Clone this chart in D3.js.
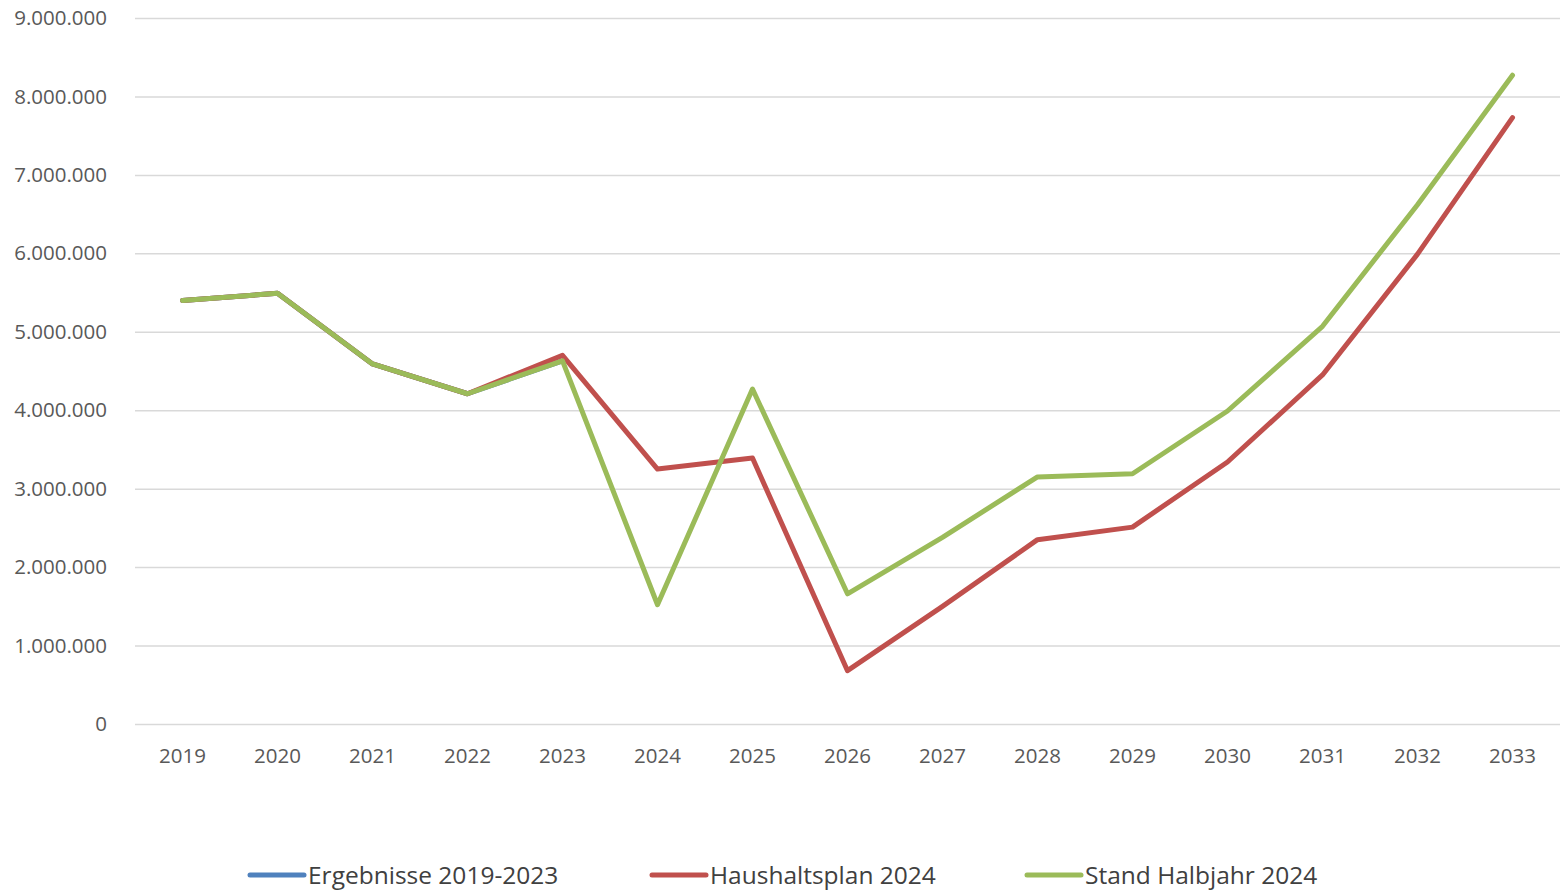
<!DOCTYPE html>
<html>
<head>
<meta charset="utf-8">
<script src="https://cdn.jsdelivr.net/npm/d3@7"></script>
<style>
  body { margin: 0; background: #fff; overflow: hidden; }
  .tick text { fill: #595959; font-family: "Open Sans", "Noto Sans", sans-serif; font-size: 20.5px; }
  .legend text { fill: #404040; font-family: "Open Sans", sans-serif; font-size: 24.5px; }
</style>
</head>
<body>
<div id="chart"></div>
<script>
// Data
const years = ["2019","2020","2021","2022","2023","2024","2025","2026","2027","2028","2029","2030","2031","2032","2033"];
const ergebnisse = [5400000, 5490000, 4590000, 4210000, 4630000];
const haushaltsplan = [5400000, 5490000, 4590000, 4210000, 4700000, 3250000, 3390000, 680000, 1500000, 2350000, 2510000, 3340000, 4450000, 5990000, 7730000];
const halbjahr = [5400000, 5490000, 4590000, 4210000, 4630000, 1520000, 4270000, 1660000, 2380000, 3150000, 3190000, 3990000, 5070000, 6620000, 8270000];
const yTicks = [0, 1000000, 2000000, 3000000, 4000000, 5000000, 6000000, 7000000, 8000000, 9000000];

const series = [
  { name: "Ergebnisse 2019-2023", values: ergebnisse, color: "#4f81bd" },
  { name: "Haushaltsplan 2024", values: haushaltsplan, color: "#c0504d" },
  { name: "Stand Halbjahr 2024", values: halbjahr, color: "#9bbb59" }
];

// Setup
const width = 1560, height = 893;
const margin = { top: 18, right: 0, bottom: 169, left: 135 };
const innerWidth = width - margin.left - margin.right;
const innerHeight = height - margin.top - margin.bottom;

const svg = d3.select("#chart").append("svg")
    .attr("width", width)
    .attr("height", height);

const g = svg.append("g")
    .attr("transform", `translate(${margin.left}, ${margin.top})`);

// Scales
const xScale = d3.scaleBand().domain(years).range([0, innerWidth]);
const yScale = d3.scaleLinear().domain([0, 9000000]).range([innerHeight, 0]);

const fmt = v => d3.format(",")(v).replace(/,/g, ".");

// Gridlines + y axis
g.append("g")
    .call(d3.axisLeft(yScale).tickValues(yTicks).tickSize(-innerWidth).tickFormat(fmt).tickPadding(28))
    .call(s => s.select(".domain").remove())
    .call(s => s.selectAll(".tick line").attr("stroke", "#d9d9d9").attr("stroke-width", 1.5))
    .call(s => s.selectAll(".tick text").attr("dy", "0.32em"));

// x axis
g.append("g")
    .attr("transform", `translate(0, ${innerHeight})`)
    .call(d3.axisBottom(xScale).tickSize(0).tickPadding(24))
    .call(s => s.select(".domain").remove());

// Lines
const line = d3.line()
    .x((d, i) => xScale(years[i]) + xScale.bandwidth() / 2)
    .y(d => yScale(d));

g.selectAll(".series")
  .data(series)
  .join("path")
    .attr("fill", "none")
    .attr("stroke", d => d.color)
    .attr("stroke-width", 5)
    .attr("stroke-linejoin", "round")
    .attr("stroke-linecap", "round")
    .attr("d", d => line(d.values));

// Legend
const legendX = [250, 652, 1027];
const legend = svg.append("g").attr("class", "legend");
series.forEach((s, i) => {
  const lg = legend.append("g").attr("transform", `translate(${legendX[i]}, 875)`);
  lg.append("line")
    .attr("x1", 0).attr("x2", 54)
    .attr("stroke", s.color).attr("stroke-width", 5).attr("stroke-linecap", "round");
  lg.append("text")
    .attr("x", 58).attr("dy", "0.35em")
    .text(s.name);
});
</script>
</body>
</html>
